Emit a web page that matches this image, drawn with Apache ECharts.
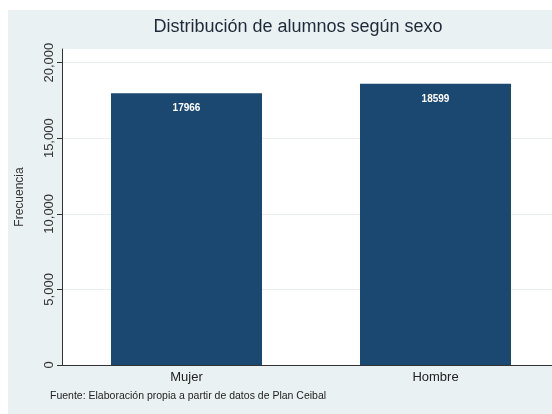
<!DOCTYPE html>
<html>
<head>
<meta charset="utf-8">
<script src="https://cdn.jsdelivr.net/npm/echarts@6/dist/echarts.min.js"></script>
<style>
html,body{margin:0;padding:0;background:#ffffff;}
#chart{width:552px;height:414px;}
</style>
</head>
<body>
<div id="chart"></div>
<script>
const categories = ['Mujer', 'Hombre'];
const frecuencia = [17966, 18599];
const yTicks = [0, 5000, 10000, 15000, 20000];
const titleText = 'Distribución de alumnos según sexo';
const yName = 'Frecuencia';
const noteText = 'Fuente: Elaboración propia a partir de datos de Plan Ceibal';

const font = '"Liberation Sans", Arial, Helvetica, sans-serif';
const chart = echarts.init(document.getElementById('chart'), null, {renderer: 'canvas'});
chart.setOption({
  backgroundColor: '#ffffff',
  animation: false,
  graphic: [
    {type: 'rect', z: -10, shape: {x: 8, y: 10, width: 560, height: 410}, style: {fill: '#eaf1f3'}},
    {type: 'text', left: 50, top: 391, style: {text: noteText, font: '10.5px ' + font, fill: '#222222'}}
  ],
  title: {
    text: titleText,
    left: 293, top: 13, textAlign: 'center',
    textStyle: {fontFamily: font, fontSize: 18, fontWeight: 'normal', color: '#1f2a38'}
  },
  grid: {left: 62, width: 498, top: 49, bottom: 49, show: true, backgroundColor: '#ffffff', borderWidth: 0,
         containLabel: false, outerBoundsMode: 'none'},
  xAxis: {
    type: 'category',
    data: categories,
    axisLine: {show: true, lineStyle: {color: '#333333', width: 1}},
    axisTick: {show: false},
    axisLabel: {fontFamily: font, fontSize: 13, color: '#222222', margin: 6}
  },
  yAxis: {
    type: 'value',
    min: 0, max: 20900, interval: 5000,
    name: yName, nameLocation: 'middle', nameGap: 36,
    nameTextStyle: {fontFamily: font, fontSize: 12, color: '#333333', padding: [0, 0, 0, 20]},
    axisLine: {show: true, lineStyle: {color: '#333333', width: 1}},
    axisTick: {show: true, length: 5, customValues: yTicks, lineStyle: {color: '#333333'}},
    axisLabel: {
      rotate: 90, fontFamily: font, fontSize: 13, color: '#333333', margin: 6,
      customValues: yTicks,
      formatter: v => v.toLocaleString('en-US')
    },
    splitLine: {show: true, lineStyle: {color: '#e9eef0', width: 1}}
  },
  series: [{
    type: 'bar',
    data: frecuencia,
    barWidth: 151,
    itemStyle: {color: '#1b4870'},
    label: {show: true, position: 'insideTop', distance: 10, color: '#ffffff', fontFamily: font, fontSize: 10, fontWeight: 'bold'}
  }]
});
</script>
</body>
</html>
